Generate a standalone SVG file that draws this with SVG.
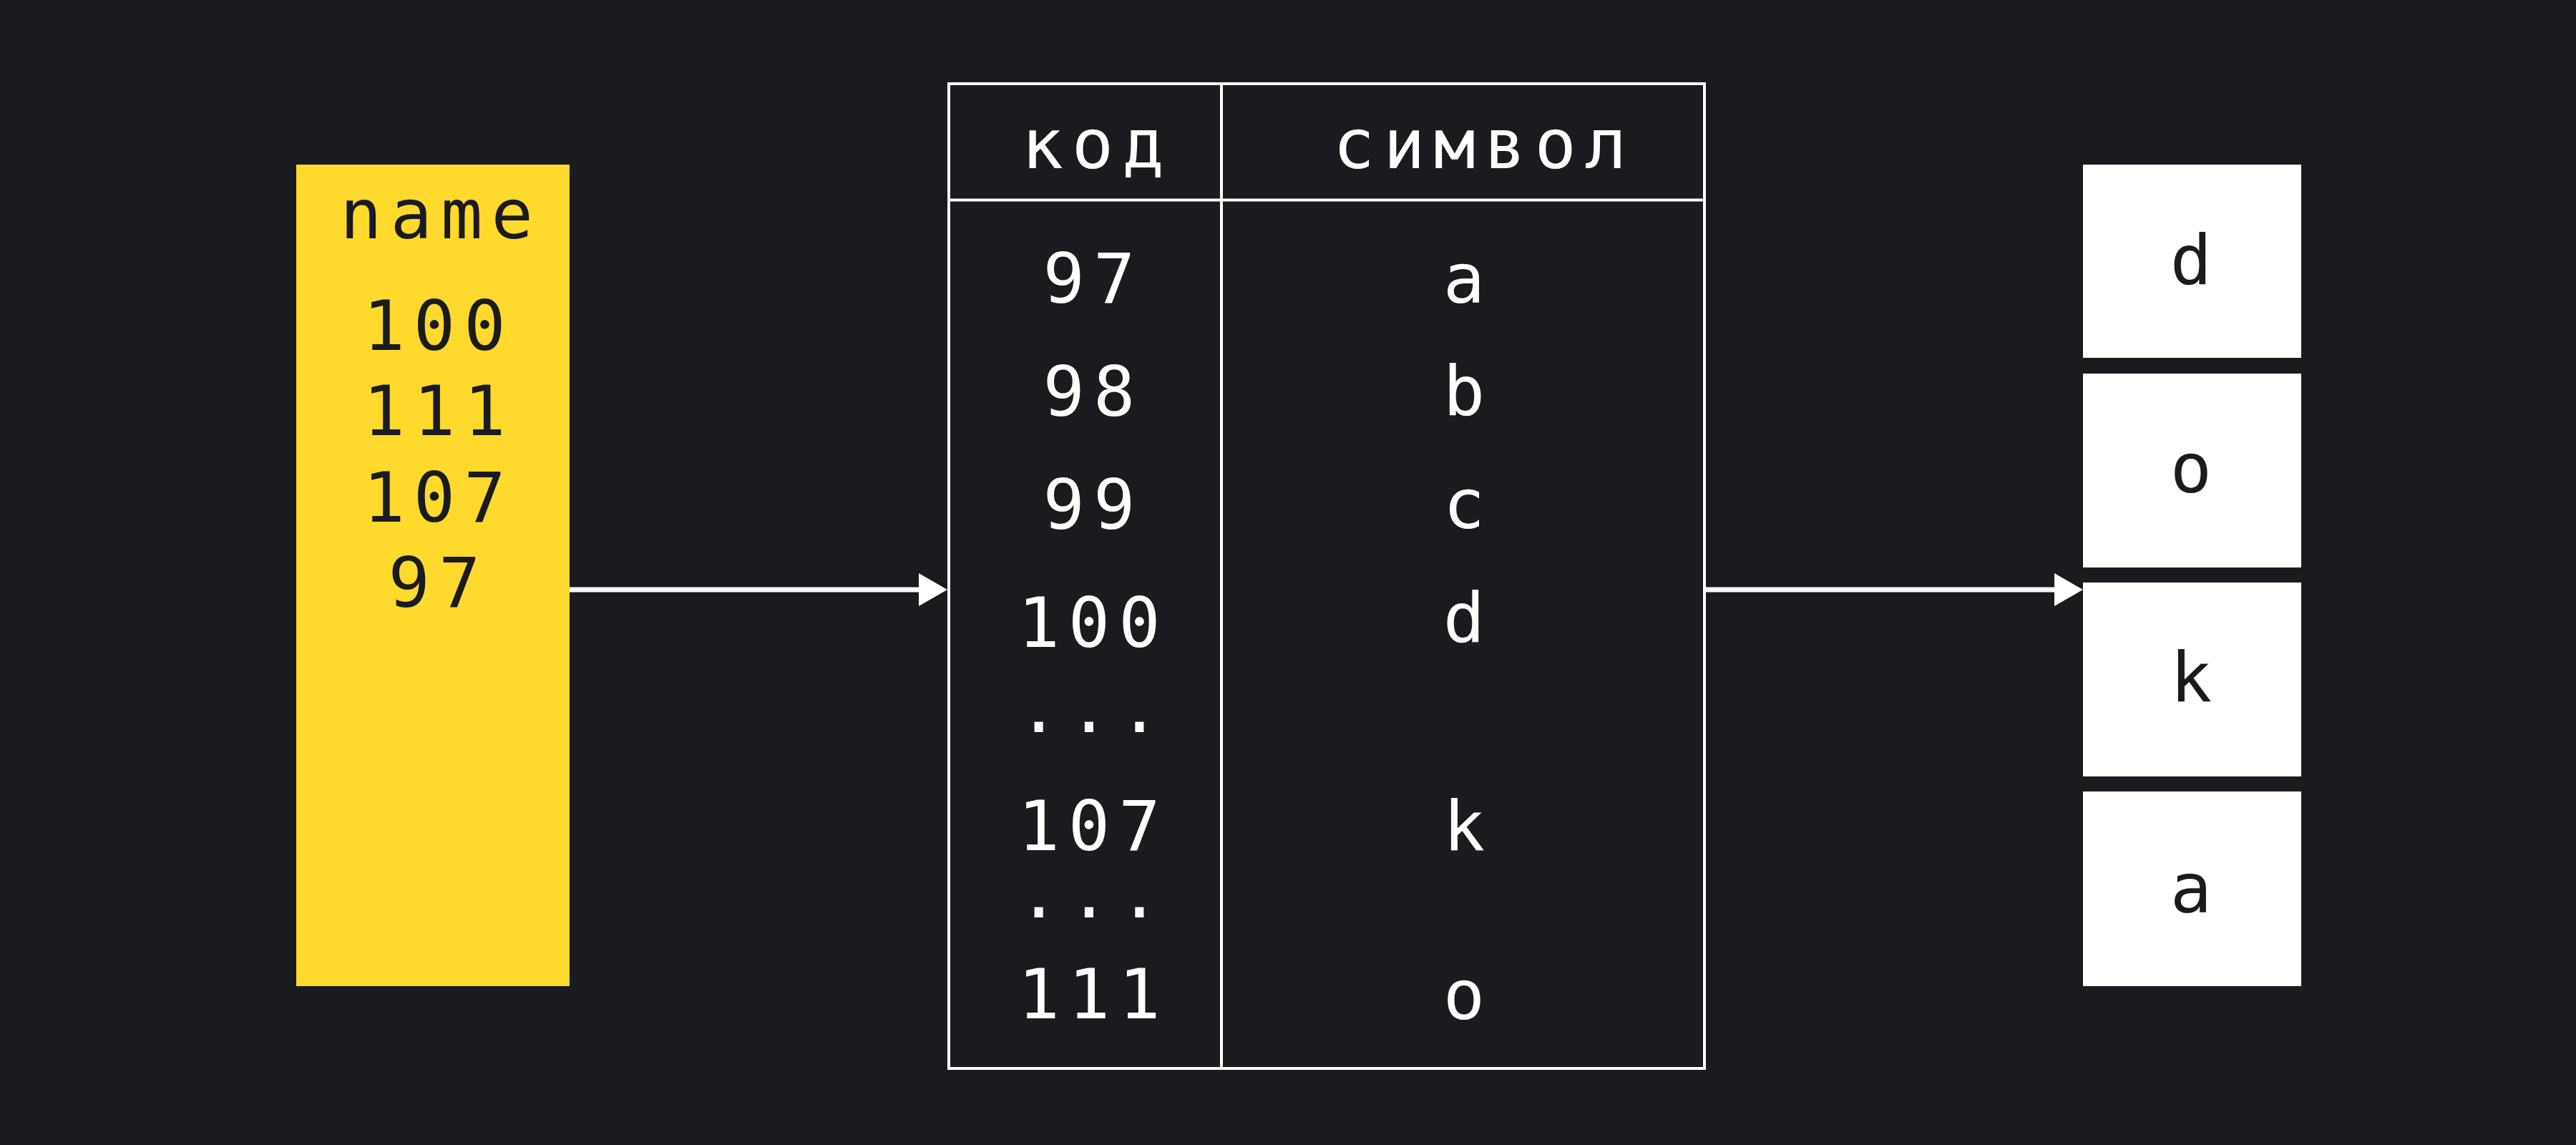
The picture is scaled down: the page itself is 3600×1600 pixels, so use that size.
<svg xmlns="http://www.w3.org/2000/svg" width="3600" height="1600" viewBox="0 0 3600 1600">
  <style>
    .t { font-family: "DejaVu Sans Mono", "Liberation Mono", monospace; font-size: 97px; letter-spacing: 12px; text-anchor: middle; }
    .dark { fill: #1a1b1f; }
    .light { fill: #ffffff; }
    .grid { fill: none; stroke: #ffffff; stroke-width: 4; }
    .conn { stroke: #ffffff; stroke-width: 7; fill: none; }
  </style>
  <defs>
    <marker id="arrow" viewBox="0 0 40 46" refX="0" refY="23" markerWidth="40" markerHeight="46" markerUnits="userSpaceOnUse" orient="auto">
      <path d="M0,0 L40,23 L0,46 Z" fill="#ffffff"/>
    </marker>
  </defs>
  <rect x="0" y="0" width="3600" height="1600" fill="#1a1b1f"/>

  <g id="name-array">
    <rect x="414" y="230" width="382" height="1148" fill="#ffd92b"/>
    <text class="t dark" x="616" y="333">name</text>
    <text class="t dark"><tspan x="613" y="489">100</tspan><tspan x="613" y="608">111</tspan><tspan x="613" y="729">107</tspan><tspan x="613" y="848">97</tspan></text>
  </g>

  <g id="code-table">
    <rect class="grid" x="1326" y="117" width="1056" height="1376"/>
    <line class="grid" x1="1707" y1="117" x2="1707" y2="1493"/>
    <line class="grid" x1="1326" y1="279.5" x2="2382" y2="279.5"/>
    <text class="t light" x="1533" y="235">код</text>
    <text class="t light" x="2074" y="235">символ</text>
    <text class="t light" x="1528" y="423">97</text>
    <text class="t light" x="1528" y="581">98</text>
    <text class="t light" x="1528" y="739">99</text>
    <text class="t light" x="1528" y="904">100</text>
    <text class="t light" x="1528" y="1023">...</text>
    <text class="t light" x="1528" y="1188">107</text>
    <text class="t light" x="1528" y="1282">...</text>
    <text class="t light" x="1528" y="1423">111</text>
    <text class="t light" x="2052" y="423">a</text>
    <text class="t light" x="2052" y="580">b</text>
    <text class="t light" x="2052" y="738">c</text>
    <text class="t light" x="2052" y="897">d</text>
    <text class="t light" x="2052" y="1188">k</text>
    <text class="t light" x="2052" y="1424">o</text>
  </g>

  <g id="result-d">
    <rect class="light" x="2911" y="230" width="305" height="270"/>
    <text class="t dark" x="3068" y="397">d</text>
  </g>
  <g id="result-o">
    <rect class="light" x="2911" y="522" width="305" height="271"/>
    <text class="t dark" x="3068" y="688">o</text>
  </g>
  <g id="result-k">
    <rect class="light" x="2911" y="814" width="305" height="271"/>
    <text class="t dark" x="3068" y="980">k</text>
  </g>
  <g id="result-a">
    <rect class="light" x="2911" y="1106" width="305" height="272"/>
    <text class="t dark" x="3068" y="1275">a</text>
  </g>

  <g id="connectors">
    <line class="conn" x1="796" y1="824" x2="1284" y2="824" marker-end="url(#arrow)"/>
    <line class="conn" x1="2384" y1="824" x2="2871" y2="824" marker-end="url(#arrow)"/>
  </g>
</svg>
